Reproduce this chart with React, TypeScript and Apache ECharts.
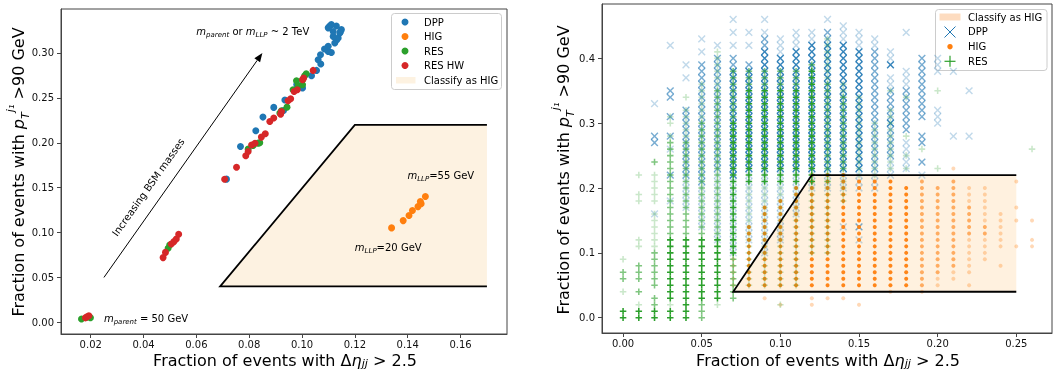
import React, { useEffect, useRef } from "react";
import * as echarts from "echarts";

const FONT = "DejaVu Sans";
const C_DPP = "#1f77b4";
const C_HIG = "#ff7f0e";
const C_RES = "#2ca02c";
const C_RESHW = "#d62728";

// ---------- Left panel ----------
const L_X_TICKS = [0.02, 0.04, 0.06, 0.08, 0.1, 0.12, 0.14, 0.16];
const L_Y_TICKS = [0, 0.05, 0.1, 0.15, 0.2, 0.25, 0.3];

const L_DPP: number[][] = [
  [0.0714, 0.1595], [0.0767, 0.1958], [0.0825, 0.2133], [0.0852, 0.2286], [0.0893, 0.2394],
  [0.0935, 0.2476], [0.1002, 0.261], [0.1036, 0.2747], [0.1055, 0.2806], [0.1071, 0.2877],
  [0.1061, 0.2925], [0.107, 0.298], [0.1099, 0.3018], [0.1111, 0.3006], [0.1099, 0.3074],
  [0.1085, 0.3045], [0.1124, 0.3111], [0.1131, 0.3145], [0.1137, 0.3167], [0.1118, 0.3185],
  [0.1143, 0.3222], [0.1118, 0.324], [0.1145, 0.3235], [0.1149, 0.326], [0.113, 0.33],
  [0.1111, 0.3316], [0.1105, 0.33], [0.1099, 0.328], [0.098, 0.265], [0.093, 0.236],
];
const L_HIG: number[][] = [
  [0.1339, 0.1052], [0.1383, 0.1133], [0.1405, 0.1189], [0.1418, 0.1245],
  [0.1439, 0.1289], [0.1451, 0.132], [0.1448, 0.1345], [0.1467, 0.1401],
];
const L_RES: number[][] = [
  [0.0165, 0.0037], [0.0186, 0.0056], [0.0199, 0.0052], [0.0493, 0.0825], [0.0499, 0.0862],
  [0.0796, 0.1929], [0.0815, 0.197], [0.0834, 0.1996], [0.084, 0.2], [0.0916, 0.2331],
  [0.0922, 0.2356], [0.0943, 0.2397], [0.0966, 0.259], [0.0979, 0.2691], [0.0985, 0.2635],
  [0.1002, 0.2646], [0.1002, 0.2702], [0.101, 0.2747], [0.1016, 0.2769],
];
const L_RESHW: number[][] = [
  [0.018, 0.005], [0.0186, 0.0063], [0.0193, 0.0074], [0.0474, 0.0721], [0.0483, 0.0779],
  [0.0505, 0.0873], [0.0515, 0.0899], [0.0524, 0.0929], [0.0533, 0.0981], [0.0707, 0.1594],
  [0.0752, 0.1728], [0.0787, 0.1855], [0.0796, 0.1902], [0.0809, 0.1976], [0.0822, 0.1995],
  [0.0846, 0.2063], [0.0861, 0.2101], [0.0878, 0.2237], [0.0893, 0.2275], [0.0919, 0.2319],
  [0.0922, 0.2349], [0.0947, 0.2468], [0.0957, 0.249], [0.097, 0.2572], [0.0982, 0.259],
  [0.1002, 0.2702], [0.1006, 0.272], [0.1042, 0.2806],
];
const L_POLY_X = [0.069, 0.12, 0.17, 0.17];
const L_POLY_Y = [0.04, 0.22, 0.22, 0.04];
const L_ARROW_X = [0.025, 0.085];
const L_ARROW_Y = [0.05, 0.3];

const ANN_X = [0.06, 0.025, 0.1399, 0.12, 0.0418];
const ANN_Y = [0.3237, 0.004, 0.1635, 0.0836, 0.1505];
const ANN_TEXT = [
  "{i|m}{sb|parent}{n| or }{i|m}{sb|LLP}{n| ~ 2 TeV}",
  "{i|m}{sb|parent}{n| = 50 GeV}",
  "{i|m}{sb|LLP}{n|=55 GeV}",
  "{i|m}{sb|LLP}{n|=20 GeV}",
  "{n|Increasing BSM masses}",
];
const ANN_ROT = [0, 0, 0, 0, 54.7];
const ANN_ALIGN = ["left", "left", "left", "left", "center"];

// ---------- Right panel ----------
const R_X_TICKS = [0, 0.05, 0.1, 0.15, 0.2, 0.25];
const R_Y_TICKS = [0, 0.1, 0.2, 0.3, 0.4];
const R_POLY_X = [0.07, 0.12, 0.25, 0.25];
const R_POLY_Y = [0.04, 0.22, 0.22, 0.04];

// Column index = Δη fraction in hundredths; entries = y values (hundredths) : intensity
const R_DPP_COLS: string[] = [
  "", "",
  "16:l,27-28:m,33:l",
  "18:l,22:m,26:l,28:m,31:m,34-35:m,42:l",
  "17-21:l,22-32:m,37:l,39:l",
  "14-20:l,21-39:m,41:l,43:l",
  "12-22:l,23-40:m,42:l",
  "10-21:l,22-38:d,39-40:m,42:l,44:l,46:l",
  "12-22:l,23-38:d,39:m,42:l,44:l",
  "10-22:l,23-41:d,42-43:m,44:l,46:l",
  "12-22:l,23-40:d,41-43:l",
  "16-22:l,23-41:d,42-44:l",
  "20-22:l,23-42:d,43-44:l",
  "20-22:l,23-42:d,43-44:m,46:l",
  "14:l,20-22:l,23-42:d,43-45:l",
  "12:l,14:m,20-22:l,23-41:d,42-44:l",
  "20-22:l,23-41:m,42-43:l",
  "22-24:l,25-29:m,30:d,31-35:m,36-37:l,39:d,40-41:l",
  "23-27:l,29-35:m,36-38:l,44:l",
  "22:l,24:m,27-28:m,31-35:m,36-40:m",
  "30-32:l,38-40:l",
  "28:l,38:l",
  "28:l,35:l",
  "", "", "", "",
];
const R_HIG_COLS: string[] = [
  "", "", "", "", "", "", "",
  "5-9:l",
  "5-14:d",
  "3:l,5-17:d",
  "2:l,5-18:d",
  "5-20:d",
  "2-3:l,5-22:d",
  "3:l,5-22:d",
  "3:l,5-22:d",
  "2:l,5-21:d",
  "5-21:d",
  "4:l,5-21:d",
  "5-20:d",
  "4:l,5-21:m",
  "5-6:l,7-20:m",
  "6-7:l,8-21:m,23:l",
  "5:l,7-12:l,13-17:m,18-20:l",
  "9-12:l,13-14:m,15-20:l",
  "8:l,11-16:l",
  "11:l,15:l,17:l,21:l",
  "11-12:l,15:l",
];
const R_RES_COLS: string[] = [
  "0-1:d,4:l,6-7:m,9:l",
  "0-1:d,2:l,4:m,6-8:m,11-12:l,18-19:l,22:l",
  "0-1:d,2-3:m,5-10:m,11-16:l,18-22:l,24:m",
  "0-1:d,2:l,3-12:d,13-27:m,28:l,30-31:l",
  "0-1:d,2-12:d,13-27:m,28-32:l,34:l",
  "0-2:m,3-12:d,13-30:m,31-36:l",
  "2:l,3-12:d,13-35:m,36-41:l",
  "3-9:m,10-30:d,31-38:m",
  "5-20:l,21-35:d,36-38:m",
  "5-20:l,21-35:d,36-38:m",
  "2:l,5-20:l,21-35:d,36-38:m",
  "5-20:l,21-35:d,36-38:m",
  "10-20:l,21-38:d,39:m",
  "10-20:l,21-36:m,37-43:l",
  "18-22:l,23-34:m,35-36:l",
  "22-34:l",
  "22-30:l",
  "23-32:l,35:l",
  "23:l,25:l,28:l,34:l",
  "26:l",
  "23:l,35:l",
  "", "", "", "", "",
  "26:l",
];

const ALPHA_DPP: Record<string, number> = { l: 0.28, m: 0.6, d: 0.9 };
const ALPHA_HIG: Record<string, number> = { l: 0.3, m: 0.6, d: 0.95 };
const ALPHA_RES: Record<string, number> = { l: 0.25, m: 0.6, d: 1 };

function expandColumns(cols: string[], alpha: Record<string, number>) {
  const out: any[] = [];
  cols.forEach((spec, k) => {
    if (!spec) return;
    spec.split(",").forEach((part) => {
      const [range, lvl] = part.split(":");
      const bits = range.split("-").map(Number);
      const lo = bits[0];
      const hi = bits.length > 1 ? bits[1] : bits[0];
      for (let y = lo; y <= hi; y++) {
        out.push({ value: [k / 100, y / 100], itemStyle: { opacity: alpha[lvl] } });
      }
    });
  });
  return out;
}

const PLUS = "path://M3.8,0H6.2V3.8H10V6.2H6.2V10H3.8V6.2H0V3.8H3.8Z";
const THIN_PLUS = "path://M4.25,0H5.75V4.25H10V5.75H5.75V10H4.25V5.75H0V4.25H4.25Z";

function rich(size: number, lh: number) {
  const s = Math.round(size * 0.7 * 10) / 10;
  return {
    n: { fontSize: size, fontFamily: FONT, lineHeight: lh, fill: "#000" },
    i: { fontSize: size, fontFamily: FONT, fontStyle: "italic", lineHeight: lh, fill: "#000" },
    sb: { fontSize: s, fontFamily: FONT, fontStyle: "italic", verticalAlign: "bottom", fill: "#000" },
    sp: { fontSize: s, fontFamily: FONT, fontStyle: "italic", verticalAlign: "top", fill: "#000" },
  };
}

const X_TITLE = "{n|Fraction of events with Δ}{i|η}{sb|jj}{n| > 2.5}";
const Y_TITLE = "{n|Fraction of events with }{i|p}{sb|T}{sp|j₁}{n| >90 GeV}";

function polyFill(px: number[], py: number[], fill: string) {
  return (params: any, api: any) => {
    const pts = px.map((x, i) => api.coord([x, py[i]]));
    return { type: "polygon", shape: { points: pts }, style: { fill, stroke: "none" }, silent: true };
  };
}
function polyEdge(px: number[], py: number[]) {
  return (params: any, api: any) => {
    const pts = px.map((x, i) => api.coord([x, py[i]]));
    return {
      type: "polyline",
      shape: { points: [pts[2], pts[1], pts[0], pts[3]] },
      style: { stroke: "#000", lineWidth: 1.8, fill: "none" },
      silent: true,
    };
  };
}

function axisBase(gridIndex: number, min: number, max: number, ticks: number[], digits: number, isY: boolean) {
  return {
    gridIndex,
    type: "value",
    min,
    max,
    splitLine: { show: false },
    axisLine: { show: true, onZero: false, lineStyle: { color: "#444", width: 1 } },
    axisTick: { show: true, customValues: ticks, length: 4, lineStyle: { color: "#444" } },
    axisLabel: {
      customValues: ticks,
      formatter: (v: number) => v.toFixed(digits),
      fontFamily: FONT,
      fontSize: 10,
      color: "#111",
      margin: isY ? 7 : 5,
    },
  };
}

export default function App() {
  const ref = useRef<HTMLDivElement>(null);
  useEffect(() => {
    if (!ref.current) return;
    const chart = echarts.init(ref.current, undefined, { renderer: "svg" });
    const r10 = rich(10, 14);
    const r16 = rich(16, 18);
    const r16y = rich(16, 26);

    const legendLeft = {
      type: "group",
      z: 100,
      children: [
        { type: "rect", shape: { x: 391.5, y: 13.5, width: 110, height: 76, r: 3 }, style: { fill: "rgba(255,255,255,0.8)", stroke: "#ccc", lineWidth: 1 } },
        { type: "circle", shape: { cx: 405, cy: 22, r: 3.5 }, style: { fill: C_DPP } },
        { type: "circle", shape: { cx: 405, cy: 36.5, r: 3.5 }, style: { fill: C_HIG } },
        { type: "circle", shape: { cx: 405, cy: 51, r: 3.5 }, style: { fill: C_RES } },
        { type: "circle", shape: { cx: 405, cy: 65.5, r: 3.5 }, style: { fill: C_RESHW } },
        { type: "rect", shape: { x: 396, y: 77, width: 19.5, height: 6.5 }, style: { fill: "#fdf2e1" } },
        ...["DPP", "HIG", "RES", "RES HW", "Classify as HIG"].map((t, i) => ({
          type: "text",
          x: 424,
          y: 22 + i * 14.5,
          style: { text: t, fontFamily: FONT, fontSize: 10, fill: "#000", align: "left", verticalAlign: "middle" },
        })),
      ],
    };
    const legendRight = {
      type: "group",
      z: 100,
      children: [
        { type: "rect", shape: { x: 935.5, y: 9.5, width: 111.5, height: 61, r: 3 }, style: { fill: "rgba(255,255,255,0.8)", stroke: "#ccc", lineWidth: 1 } },
        { type: "rect", shape: { x: 939.5, y: 13.5, width: 21, height: 7 }, style: { fill: "#fddcc0" } },
        { type: "line", shape: { x1: 944.5, y1: 26.5, x2: 955.5, y2: 37.5 }, style: { stroke: C_DPP, lineWidth: 1 } },
        { type: "line", shape: { x1: 944.5, y1: 37.5, x2: 955.5, y2: 26.5 }, style: { stroke: C_DPP, lineWidth: 1 } },
        { type: "circle", shape: { cx: 950, cy: 46.7, r: 2.7 }, style: { fill: C_HIG } },
        { type: "line", shape: { x1: 944.5, y1: 61.3, x2: 955.5, y2: 61.3 }, style: { stroke: C_RES, lineWidth: 1.2 } },
        { type: "line", shape: { x1: 950, y1: 55.8, x2: 950, y2: 66.8 }, style: { stroke: C_RES, lineWidth: 1.2 } },
        ...["Classify as HIG", "DPP", "HIG", "RES"].map((t, i) => ({
          type: "text",
          x: 968,
          y: 17 + i * 14.75,
          style: { text: t, fontFamily: FONT, fontSize: 10, fill: "#000", align: "left", verticalAlign: "middle" },
        })),
      ],
    };

    const titles = [
      { type: "text", x: 285, y: 360, z: 50, style: { text: X_TITLE, rich: r16, align: "center", verticalAlign: "middle", fill: "#000" } },
      { type: "text", x: 828, y: 360, z: 50, style: { text: X_TITLE, rich: r16, align: "center", verticalAlign: "middle", fill: "#000" } },
      { type: "text", x: 18, y: 172, rotation: Math.PI / 2, z: 50, style: { text: Y_TITLE, rich: r16y, align: "center", verticalAlign: "middle", fill: "#000" } },
      { type: "text", x: 563, y: 170, rotation: Math.PI / 2, z: 50, style: { text: Y_TITLE, rich: r16y, align: "center", verticalAlign: "middle", fill: "#000" } },
    ];

    const leftScatter = (name: string, data: number[][], color: string) => ({
      type: "scatter",
      name,
      xAxisIndex: 0,
      yAxisIndex: 0,
      data,
      symbol: "circle",
      symbolSize: 7,
      itemStyle: { color, opacity: 1 },
      z: 2,
      silent: true,
      progressive: 0,
    });

    const option: any = {
      animation: false,
      grid: [
        { left: 61, top: 9, width: 446, height: 325, show: true, borderColor: "#444", borderWidth: 1, backgroundColor: "transparent" },
        { left: 602, top: 4, width: 450, height: 329, show: true, borderColor: "#444", borderWidth: 1, backgroundColor: "transparent" },
      ],
      xAxis: [
        axisBase(0, 0.00875, 0.1776, L_X_TICKS, 2, false),
        axisBase(1, -0.0134, 0.2727, R_X_TICKS, 2, false),
      ],
      yAxis: [
        axisBase(0, -0.013, 0.349, L_Y_TICKS, 2, true),
        axisBase(1, -0.0236, 0.4838, R_Y_TICKS, 1, true),
      ],
      graphic: [...titles, legendLeft, legendRight],
      series: [
        // left panel
        { type: "custom", xAxisIndex: 0, yAxisIndex: 0, data: [[0, 0]], renderItem: polyFill(L_POLY_X, L_POLY_Y, "#fdf2e1"), z: 1, silent: true },
        { type: "custom", xAxisIndex: 0, yAxisIndex: 0, data: [[0, 0]], renderItem: polyEdge(L_POLY_X, L_POLY_Y), z: 3, silent: true },
        leftScatter("DPP", L_DPP, C_DPP),
        leftScatter("HIG", L_HIG, C_HIG),
        leftScatter("RES", L_RES, C_RES),
        leftScatter("RES HW", L_RESHW, C_RESHW),
        {
          type: "custom",
          xAxisIndex: 0,
          yAxisIndex: 0,
          data: [[L_ARROW_X[0], L_ARROW_Y[0], L_ARROW_X[1], L_ARROW_Y[1]]],
          z: 3,
          silent: true,
          renderItem: (params: any, api: any) => {
            const p0 = api.coord([api.value(0), api.value(1)]);
            const p1 = api.coord([api.value(2), api.value(3)]);
            const dx = p1[0] - p0[0];
            const dy = p1[1] - p0[1];
            const len = Math.sqrt(dx * dx + dy * dy);
            const ux = dx / len, uy = dy / len;
            const nx = -uy, ny = ux;
            const hl = 9, hw = 3.5;
            const bx = p1[0] - ux * hl, by = p1[1] - uy * hl;
            return {
              type: "group",
              children: [
                { type: "line", shape: { x1: p0[0], y1: p0[1], x2: bx, y2: by }, style: { stroke: "#000", lineWidth: 1 } },
                { type: "polygon", shape: { points: [[p1[0], p1[1]], [bx + nx * hw, by + ny * hw], [bx - nx * hw, by - ny * hw]] }, style: { fill: "#000" } },
              ],
            };
          },
        },
        {
          type: "custom",
          xAxisIndex: 0,
          yAxisIndex: 0,
          data: ANN_X.map((x, i) => [x, ANN_Y[i]]),
          z: 4,
          silent: true,
          renderItem: (params: any, api: any) => {
            const i = params.dataIndex;
            const p = api.coord([api.value(0), api.value(1)]);
            return {
              type: "text",
              x: p[0],
              y: p[1],
              rotation: (ANN_ROT[i] * Math.PI) / 180,
              style: { text: ANN_TEXT[i], rich: r10, align: ANN_ALIGN[i], verticalAlign: "middle", fill: "#000" },
            };
          },
        },
        // right panel
        { type: "custom", xAxisIndex: 1, yAxisIndex: 1, data: [[0, 0]], renderItem: polyFill(R_POLY_X, R_POLY_Y, "#fff1df"), z: 1, silent: true },
        {
          type: "scatter",
          name: "DPP",
          xAxisIndex: 1,
          yAxisIndex: 1,
          data: expandColumns(R_DPP_COLS, ALPHA_DPP),
          symbol: THIN_PLUS,
          symbolRotate: 45,
          symbolSize: 9.5,
          itemStyle: { color: C_DPP },
          z: 2,
          silent: true,
          progressive: 0,
        },
        {
          type: "scatter",
          name: "HIG",
          xAxisIndex: 1,
          yAxisIndex: 1,
          data: expandColumns(R_HIG_COLS, ALPHA_HIG),
          symbol: "circle",
          symbolSize: 4,
          itemStyle: { color: C_HIG },
          z: 2,
          silent: true,
          progressive: 0,
        },
        {
          type: "scatter",
          name: "RES",
          xAxisIndex: 1,
          yAxisIndex: 1,
          data: expandColumns(R_RES_COLS, ALPHA_RES),
          symbol: PLUS,
          symbolSize: 6.5,
          itemStyle: { color: C_RES },
          z: 2,
          silent: true,
          progressive: 0,
        },
        { type: "custom", xAxisIndex: 1, yAxisIndex: 1, data: [[0, 0]], renderItem: polyEdge(R_POLY_X, R_POLY_Y), z: 3, silent: true },
      ],
    };
    chart.setOption(option);
    return () => chart.dispose();
  }, []);
  return <div ref={ref} style={{ position: "fixed", left: 0, top: 0, width: 1053, height: 372 }} />;
}
